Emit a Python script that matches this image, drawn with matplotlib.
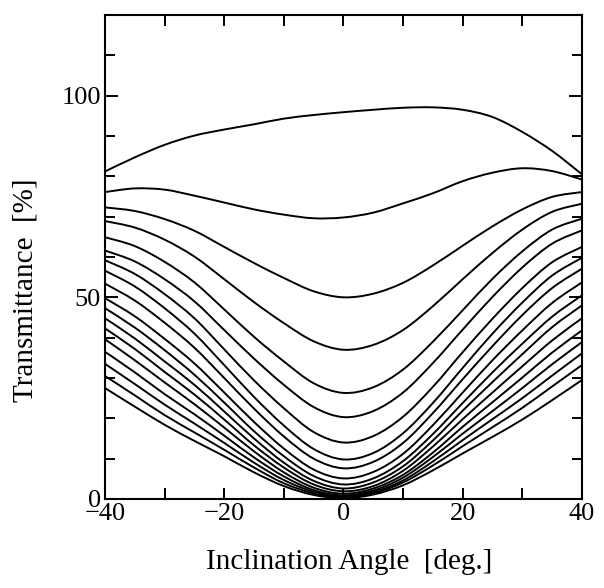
import matplotlib
matplotlib.use("Agg")
import matplotlib.pyplot as plt
from matplotlib.ticker import FixedLocator
from matplotlib.path import Path
from matplotlib.patches import PathPatch

# Inclination angle [deg.]
angles = [-40, -35, -30, -25, -20, -15, -10, -5, 0, 5, 10, 15, 20, 25, 30, 35, 40]

# Transmittance [%] curves (top to bottom)
t01 = [81.2, 84.7, 87.8, 90.1, 91.6, 92.9, 94.3, 95.2, 95.9, 96.5, 97.0, 97.1, 96.5, 94.7, 91.0, 86.3, 80.5]
t02 = [76.1, 77.0, 76.7, 75.2, 73.5, 71.8, 70.5, 69.6, 69.8, 71.0, 73.3, 75.8, 78.8, 80.9, 82.0, 81.3, 79.2]
t03 = [72.3, 71.4, 69.4, 66.5, 62.5, 58.5, 54.8, 51.5, 50.0, 50.9, 53.6, 57.9, 62.8, 67.6, 71.8, 74.9, 76.1]
t04 = [68.9, 67.3, 64.3, 60.1, 54.5, 48.8, 43.6, 39.1, 37.0, 38.2, 41.9, 47.8, 54.5, 61.0, 66.8, 71.2, 73.2]
t05 = [64.9, 62.7, 58.8, 53.7, 47.0, 40.2, 34.1, 28.7, 26.3, 27.7, 32.1, 39.0, 46.8, 54.6, 61.4, 66.8, 69.5]
t06 = [61.6, 58.9, 54.5, 49.0, 41.9, 34.8, 28.3, 22.8, 20.3, 21.8, 26.4, 33.7, 42.0, 50.1, 57.4, 63.3, 66.6]
t07 = [59.2, 55.8, 50.8, 44.8, 37.1, 29.4, 22.5, 16.6, 14.0, 15.6, 20.4, 27.8, 36.4, 44.7, 52.3, 58.7, 62.5]
t08 = [56.6, 52.7, 47.3, 41.0, 33.2, 25.3, 18.2, 12.4, 9.8, 11.4, 16.3, 23.8, 32.5, 41.0, 48.7, 55.4, 59.8]
t09 = [53.4, 49.2, 43.7, 37.5, 30.0, 22.4, 15.5, 10.0, 7.6, 9.2, 13.9, 21.3, 29.7, 37.9, 45.6, 52.3, 57.1]
t10 = [49.8, 45.3, 39.7, 33.6, 26.4, 19.1, 12.5, 7.3, 5.1, 6.7, 11.2, 18.3, 26.4, 34.4, 41.8, 48.6, 53.7]
t11 = [47.3, 42.5, 36.9, 30.8, 23.9, 16.8, 10.6, 5.7, 3.6, 5.1, 9.4, 16.1, 23.8, 31.4, 38.5, 45.2, 50.5]
t12 = [44.8, 39.8, 34.1, 28.3, 21.7, 15.0, 9.0, 4.5, 2.6, 4.1, 8.1, 14.5, 21.9, 29.0, 35.9, 42.6, 48.0]
t13 = [42.3, 37.2, 31.5, 25.9, 19.7, 13.3, 7.8, 3.6, 1.9, 3.2, 7.0, 13.0, 19.8, 26.4, 32.9, 39.3, 44.8]
t14 = [39.6, 34.4, 28.9, 23.5, 17.7, 11.8, 6.6, 2.8, 1.3, 2.6, 6.0, 11.5, 17.9, 24.0, 30.1, 36.3, 41.8]
t15 = [36.5, 31.4, 26.0, 21.0, 15.7, 10.3, 5.6, 2.2, 0.9, 2.1, 5.3, 10.4, 16.2, 21.8, 27.5, 33.4, 38.9]
t16 = [33.5, 28.5, 23.4, 18.7, 13.9, 9.0, 4.7, 1.8, 0.6, 1.7, 4.6, 9.3, 14.6, 19.8, 25.0, 30.6, 36.1]
t17 = [30.5, 25.7, 20.8, 16.5, 12.2, 7.8, 3.9, 1.4, 0.4, 1.4, 4.1, 8.3, 13.1, 17.8, 22.6, 27.9, 33.2]
t18 = [27.5, 22.9, 18.4, 14.4, 10.6, 6.6, 3.2, 1.0, 0.2, 1.1, 3.4, 7.1, 11.3, 15.4, 19.7, 24.5, 29.5]

curves = [t01, t02, t03, t04, t05, t06, t07, t08, t09, t10, t11, t12,
          t13, t14, t15, t16, t17, t18]

x_major = [-40, -20, 0, 20, 40]
x_minor = [-30, -10, 10, 30]
y_major = [0, 50, 100]
y_minor = [10, 20, 30, 40, 60, 70, 80, 90, 110]

serif = ["Liberation Serif", "DejaVu Serif"]
plt.rcParams["font.family"] = serif


def smooth_path(xs, ys):
    """Smooth curve through the data points (Catmull-Rom as cubic Bezier)."""
    n = len(xs)
    pts = list(zip(xs, ys))
    verts = [pts[0]]
    codes = [Path.MOVETO]
    for i in range(n - 1):
        p0 = pts[i - 1] if i > 0 else pts[i]
        p1 = pts[i]
        p2 = pts[i + 1]
        p3 = pts[i + 2] if i + 2 < n else pts[i + 1]
        c1 = (p1[0] + (p2[0] - p0[0]) / 6.0, p1[1] + (p2[1] - p0[1]) / 6.0)
        c2 = (p2[0] - (p3[0] - p1[0]) / 6.0, p2[1] - (p3[1] - p1[1]) / 6.0)
        verts += [c1, c2, p2]
        codes += [Path.CURVE4] * 3
    return Path(verts, codes)


fig = plt.figure(figsize=(6.04, 5.88), dpi=100)
ax = fig.add_axes([0.1738, 0.1514, 0.7897, 0.8231])

for c in curves:
    patch = PathPatch(smooth_path(angles, c), facecolor="none",
                      edgecolor="black", lw=1.4, capstyle="round",
                      joinstyle="round", transform=ax.transData)
    ax.add_patch(patch)

ax.set_xlim(-40, 40)
ax.set_ylim(0, 120)

ax.xaxis.set_major_locator(FixedLocator(x_major))
ax.xaxis.set_minor_locator(FixedLocator(x_minor))
ax.yaxis.set_major_locator(FixedLocator(y_major))
ax.yaxis.set_minor_locator(FixedLocator(y_minor))

ax.tick_params(axis="both", which="both", direction="in", top=True, right=True,
               width=1.4, colors="black", labelsize=19)
ax.tick_params(axis="x", which="both", length=7.6, pad=3)
ax.tick_params(axis="y", which="major", length=9.4, pad=3)
ax.tick_params(axis="y", which="minor", length=7.0)

for s in ax.spines.values():
    s.set_linewidth(1.5)
    s.set_color("black")

ax.set_xlabel("Inclination Angle  [deg.]", fontsize=21)
ax.set_ylabel("Transmittance  [%]", fontsize=21)
ax.xaxis.set_label_coords(0.511, -0.104)
ax.yaxis.set_label_coords(-0.14, 0.432)

fig.savefig("out.png", dpi=100, facecolor="white")
